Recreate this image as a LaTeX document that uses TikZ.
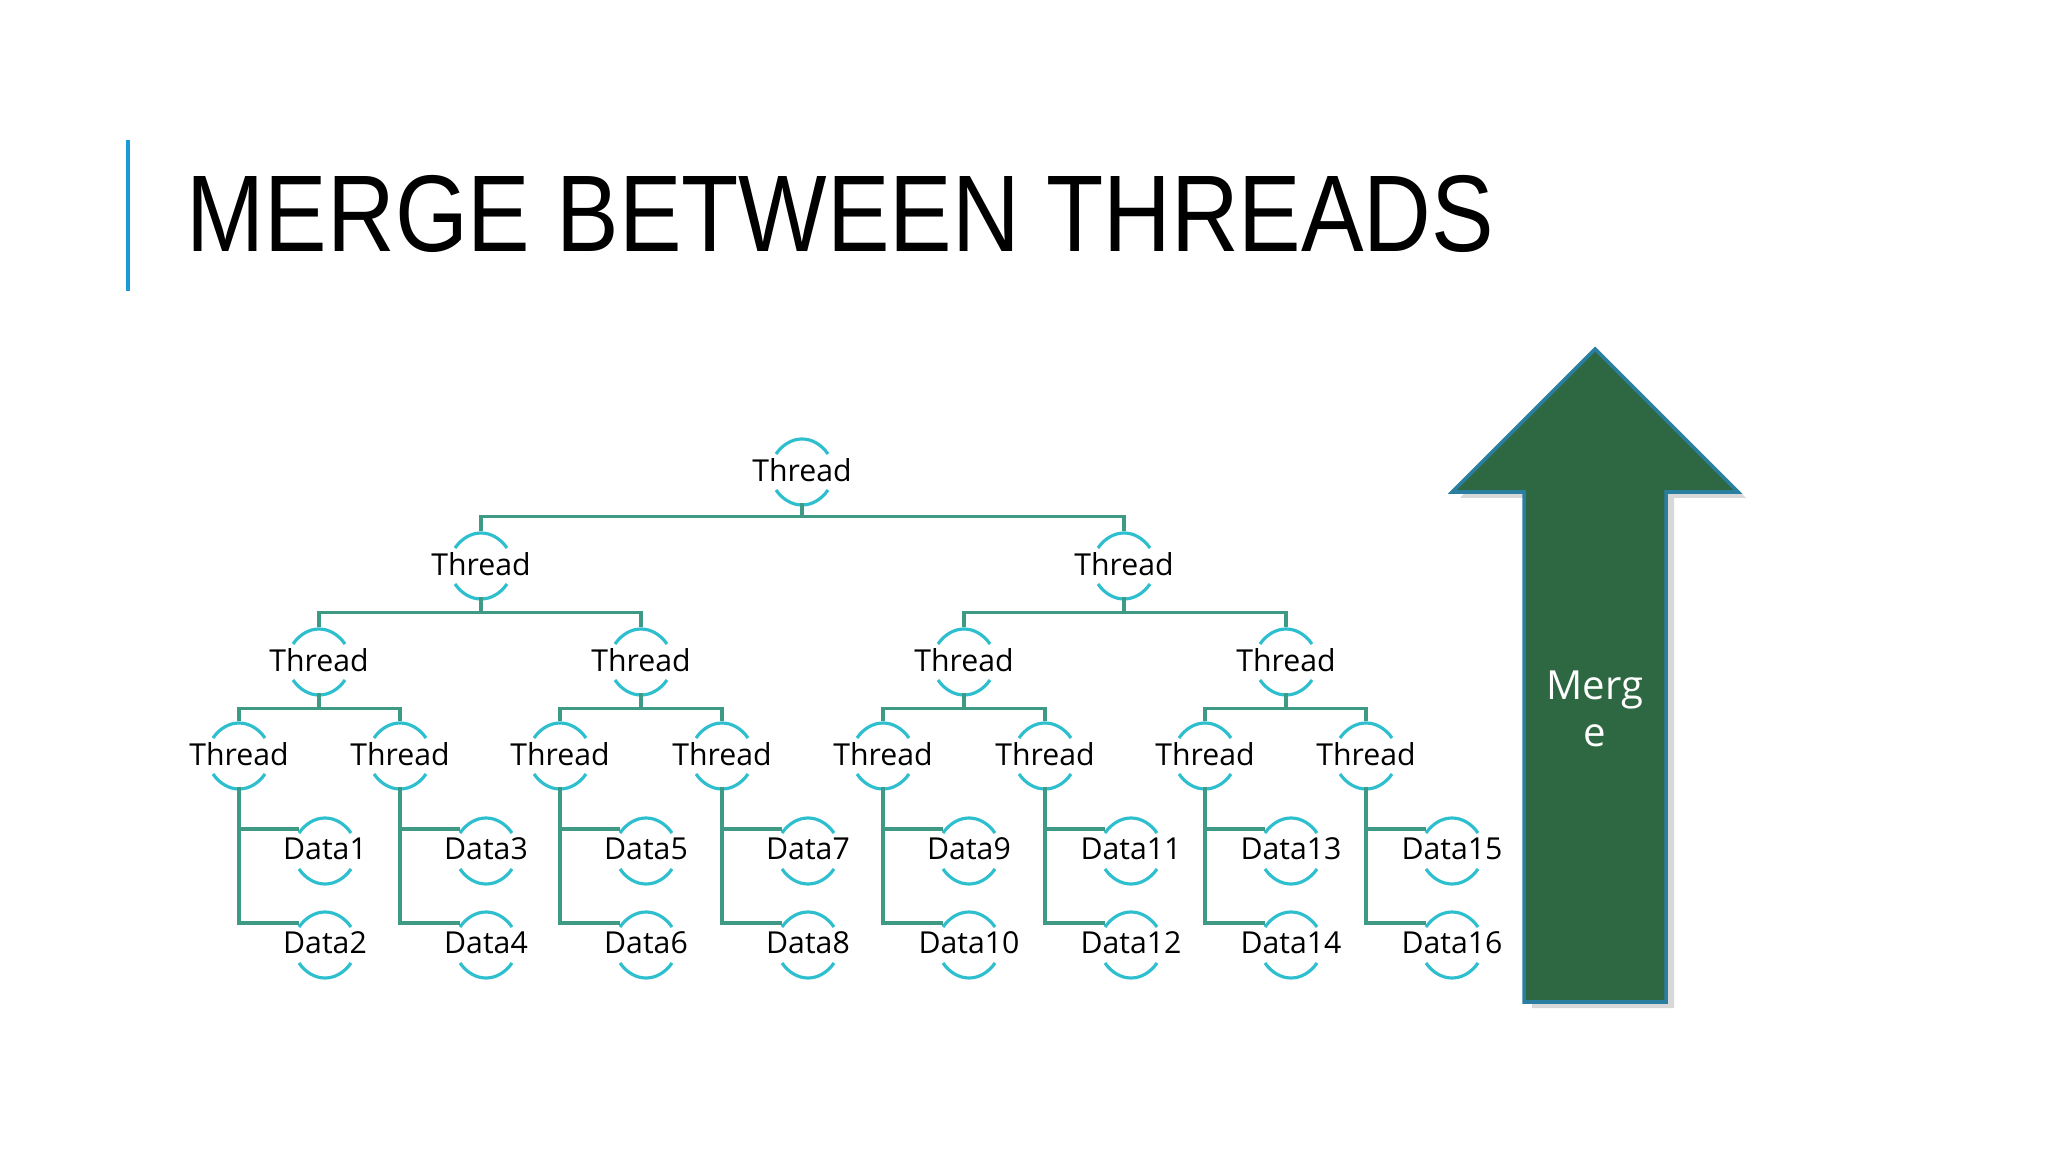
\documentclass[tikz,border=0pt]{standalone}
\usepackage{fontspec}
\setmainfont{Open Sans}
\newfontfamily\titlefont[FakeStretch=0.86]{Liberation Sans}
\usetikzlibrary{calc}
\definecolor{arcc}{HTML}{2EBFCF}
\definecolor{linec}{HTML}{3E9A85}
\definecolor{arrowg}{HTML}{2E6842}
\definecolor{arrowe}{HTML}{2A7FA0}
\definecolor{titlebar}{HTML}{1A9BD7}
\tikzset{
  tn/.style={inner sep=0pt, minimum width=52, minimum height=0.64cm, font=\fontsize{8.6pt}{10pt}\selectfont},
  arcline/.style={draw=arcc, line width=0.9pt},
  conn/.style={draw=linec, line width=0.9pt},
}
\newcommand{\arcsof}[1]{%
  \draw[arcline] ($(#1.center)+(-26,-16)$) .. controls ($(#1.center)+(-12,-36)$) and ($(#1.center)+(12,-36)$) .. ($(#1.center)+(26,-16)$);
  \draw[arcline] ($(#1.center)+(-26,20)$) .. controls ($(#1.center)+(-12,40)$) and ($(#1.center)+(12,40)$) .. ($(#1.center)+(26,20)$);}
\begin{document}
\begin{tikzpicture}[x=0.01cm,y=-0.01cm]
\useasboundingbox (0,0) rectangle (2048,1152);
\fill[white] (0,0) rectangle (2048,1152);
% title
\draw[titlebar, line width=1.2pt] (128,140) -- (128,291);
\node[anchor=base west, inner sep=0pt, font=\titlefont\fontsize{31pt}{34pt}\selectfont] (title) at (186,252) {MERGE BETWEEN THREADS};
% tree nodes
\node[tn] (r) at (802,470) {Thread};
\node[tn] (a1) at (481,564) {Thread};
\node[tn] (a2) at (1124,564) {Thread};
\foreach \i/\x in {1/319,2/641,3/964,4/1286}{\node[tn] (b\i) at (\x,660) {Thread};}
\foreach \i/\x in {1/239,2/400,3/560,4/722,5/883,6/1045,7/1205,8/1366}{%
  \node[tn] (c\i) at (\x,754) {Thread};
  \pgfmathtruncatemacro{\da}{2*\i-1}\pgfmathtruncatemacro{\db}{2*\i}
  \node[tn] (d\da) at (\x+86,849) {Data\da};
  \node[tn] (d\db) at (\x+86,943) {Data\db};
}
% arcs
\foreach \n in {r,a1,a2,b1,b2,b3,b4,c1,c2,c3,c4,c5,c6,c7,c8}{\arcsof{\n}}
\foreach \n in {1,...,16}{\arcsof{d\n}}
% connectors
\draw[conn] (r.south) -- ++(0,14) coordinate (jr);
\draw[conn] (a1.north) |- (jr) -| (a2.north);
\draw[conn] (a1.south) -- ++(0,16) coordinate (ja1);
\draw[conn] (b1.north) |- (ja1) -| (b2.north);
\draw[conn] (a2.south) -- ++(0,16) coordinate (ja2);
\draw[conn] (b3.north) |- (ja2) -| (b4.north);
\foreach \p/\l/\rr in {1/1/2,2/3/4,3/5/6,4/7/8}{%
  \draw[conn] (b\p.south) -- ++(0,16) coordinate (jb\p);
  \draw[conn] (c\l.north) |- (jb\p) -| (c\rr.north);
}
\foreach \i in {1,...,8}{%
  \pgfmathtruncatemacro{\da}{2*\i-1}\pgfmathtruncatemacro{\db}{2*\i}
  \draw[conn] (c\i.south) |- ($(d\db.center)+(-26,-20)$);
  \draw[conn] ($(c\i.south)!0!(c\i.south)$) |- ($(d\da.center)+(-26,-20)$);
}
% merge arrow
\fill[black!25, opacity=0.6] (1601,355) -- (1746,498) -- (1674,498) -- (1674,1008) -- (1532,1008) -- (1532,498) -- (1460,498) -- cycle;
\draw[fill=arrowg, draw=arrowe, line width=1pt] (1595,349) -- (1738,492) -- (1666,492) -- (1666,1002) -- (1524,1002) -- (1524,492) -- (1452,492) -- cycle;
\node[white, align=center, font=\fontsize{11.4pt}{13.4pt}\selectfont] (mg) at (1595,709) {Merg\\e};
\end{tikzpicture}
\end{document}
